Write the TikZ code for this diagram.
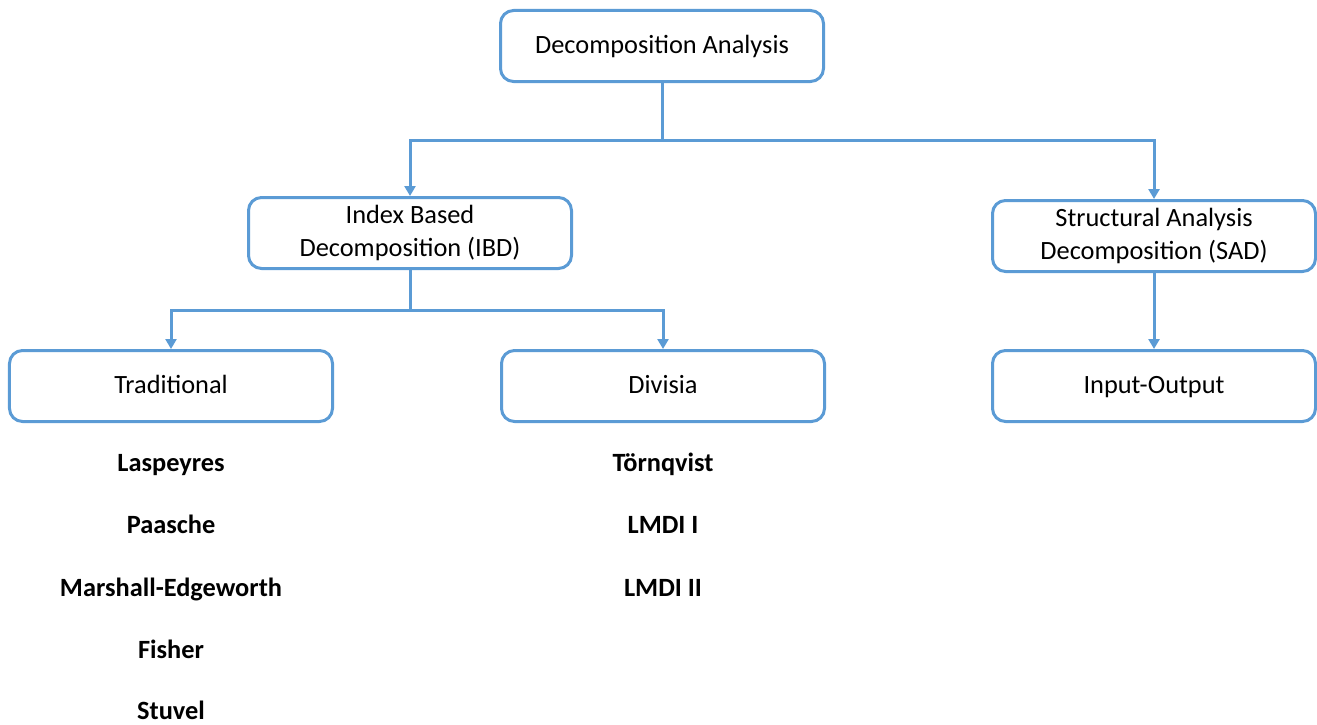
\documentclass[tikz,border=0pt]{standalone}
\usepackage{fontspec}
\setmainfont{Carlito}
\usepackage{tikz}
\usetikzlibrary{arrows.meta}
\definecolor{boxblue}{RGB}{91,155,213}

\tikzset{
  box/.style={draw=boxblue, line width=0.6mm, rounded corners=2.6mm, fill=white,
    minimum width=64.6mm, minimum height=14.2mm,
    font=\fontsize{15}{18.5}\selectfont},
  oneline/.style={text height=0.85em, text depth=0pt},
  twoline/.style={align=center},
  link/.style={draw=boxblue, line width=0.6mm, -{Triangle[length=2mm,width=2.2mm]}},
  method/.style={anchor=base, font=\fontsize{15}{18}\selectfont\bfseries},
}

\begin{document}
\begin{tikzpicture}[x=0.2mm,y=-0.2mm]
    \useasboundingbox (0,0) rectangle (1317,724);
    % boxes
    \node[box,oneline] (top) at (662,46) {Decomposition Analysis};
    \node[box,twoline] (ibd) at (410,233) {Index Based\\Decomposition (IBD)};
    \node[box,twoline] (sad) at (1154,236) {Structural Analysis\\Decomposition (SAD)};
    \node[box,oneline] (trad) at (171,386) {Traditional};
    \node[box,oneline] (div) at (663,386) {Divisia};
    \node[box,oneline] (io) at (1154,386) {Input-Output};
    % connectors
    \coordinate (split1) at (662,140);
    \coordinate (split2) at (410,310);
    \draw[line width=0.6mm, draw=boxblue] (top.south) -- (split1);
    \draw[link] (split1) -| (ibd.north);
    \draw[link] (split1) -| (sad.north);
    \draw[line width=0.6mm, draw=boxblue] (ibd.south) -- (split2);
    \draw[link] (split2) -| (trad.north);
    \draw[link] (split2) -| (div.north);
    \draw[link] (sad.south) -- (io.north);
    % methods
    \node[method] (lasp) at (171,471) {Laspeyres};
    \node[method] (paas) at (171,533) {Paasche};
    \node[method] (marsh) at (171,596) {Marshall-Edgeworth};
    \node[method] (fish) at (171,658) {Fisher};
    \node[method] (stuv) at (171,719) {Stuvel};
    \node[method] (torn) at (663,471) {Törnqvist};
    \node[method] (lmdia) at (663,533) {LMDI I};
    \node[method] (lmdib) at (663,596) {LMDI II};
\end{tikzpicture}
\end{document}
